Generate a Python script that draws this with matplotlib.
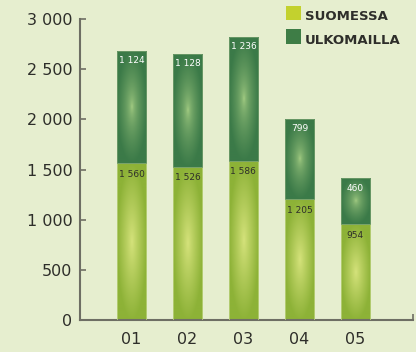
import numpy as np
import matplotlib
matplotlib.use("Agg")
import matplotlib.pyplot as plt
from matplotlib.colors import to_rgb
from matplotlib.patches import Rectangle

# Liikevaihto, Suomessa / ulkomailla
years = ["01", "02", "03", "04", "05"]
suomessa = [1560, 1526, 1586, 1205, 954]
ulkomailla = [1124, 1128, 1236, 799, 460]
yticks = [0, 500, 1000, 1500, 2000, 2500, 3000]
series = ["SUOMESSA", "ULKOMAILLA"]
series_colors = ["#c3d12e", "#3e7d46"]

BG = "#e6eecf"
TEXT = "#2e2e2a"
AXIS = "#6e6e64"
W, H = 416, 352


def fmt(v):
    return f"{v:,}".replace(",", " ")


def gradient_fill(ax, bar, center, edge, power):
    """Elliptic gradient clipped to a bar, light in the middle."""
    x0, y0 = bar.get_x(), bar.get_y()
    w, h = bar.get_width(), bar.get_height()
    nx, ny = 60, 200
    xx, yy = np.meshgrid(np.linspace(-1, 1, nx), np.linspace(-1, 1, ny))
    t = np.clip(np.sqrt(xx ** 2 + yy ** 2), 0, 1) ** power
    c0, c1 = np.array(to_rgb(center)), np.array(to_rgb(edge))
    img = c0 + (c1 - c0) * t[..., None]
    im = ax.imshow(img, extent=(x0, x0 + w, y0, y0 + h), origin="lower",
                   aspect="auto", interpolation="bilinear", zorder=2)
    im.set_clip_path(bar)


fig = plt.figure(figsize=(W / 100, H / 100), dpi=100, facecolor=BG)
ax = fig.add_axes([80 / W, 32 / H, 333 / W, 301 / H], facecolor=BG)

x = np.arange(len(years))
width = 0.52
low = ax.bar(x, suomessa, width, color="none", edgecolor="#b9d07a", linewidth=0.6, zorder=3)
high = ax.bar(x, ulkomailla, width, bottom=suomessa, color="none",
              edgecolor="#6f9c6a", linewidth=0.6, zorder=3)

for b in low:
    gradient_fill(ax, b, "#d6e37c", "#8db237", 0.9)
for b in high:
    gradient_fill(ax, b, "#b0d68a", "#3b7a48", 0.5)

# arvot palkkien sisään
for xi, s, u in zip(x, suomessa, ulkomailla):
    ax.annotate(fmt(s), (xi, s), xytext=(0, -11), textcoords="offset pixels",
                ha="center", va="center", fontsize=6.5, color=TEXT, zorder=4)
    ax.annotate(fmt(u), (xi, s + u), xytext=(0, -10), textcoords="offset pixels",
                ha="center", va="center", fontsize=6.5, color="white", zorder=4)

ax.set_xlim(-0.92, 5.03)
ax.set_ylim(0, 3000)
ax.set_xticks(x)
ax.set_xticklabels(years)
ax.set_yticks(yticks)
ax.set_yticklabels([fmt(v) for v in yticks])
ax.tick_params(axis="x", length=0, pad=9, labelsize=11.5, labelcolor=TEXT)
ax.tick_params(axis="y", direction="in", length=4.5, width=1.2, color=AXIS,
               pad=5.5, labelsize=11.5, labelcolor=TEXT)
ax.set_xticks([5.03], minor=True)
ax.tick_params(axis="x", which="minor", direction="in", length=4.5, width=1.2, color=AXIS)

for side in ("top", "right"):
    ax.spines[side].set_visible(False)
for side in ("left", "bottom"):
    ax.spines[side].set_color(AXIS)
    ax.spines[side].set_linewidth(1.5)

# selite oikeaan yläkulmaan
for i, (name, col) in enumerate(zip(series, series_colors)):
    top = 6 + i * 23.5
    fig.add_artist(Rectangle((286 / W, 1 - (top + 14) / H), 15 / W, 14 / H,
                             transform=fig.transFigure, facecolor=col, edgecolor="none"))
    fig.text(305 / W, 1 - (top + 14.5) / H, name, ha="left", va="baseline",
             fontsize=9.5, fontweight="bold", color=TEXT)

fig.savefig("out.png", dpi=100, facecolor=BG)
